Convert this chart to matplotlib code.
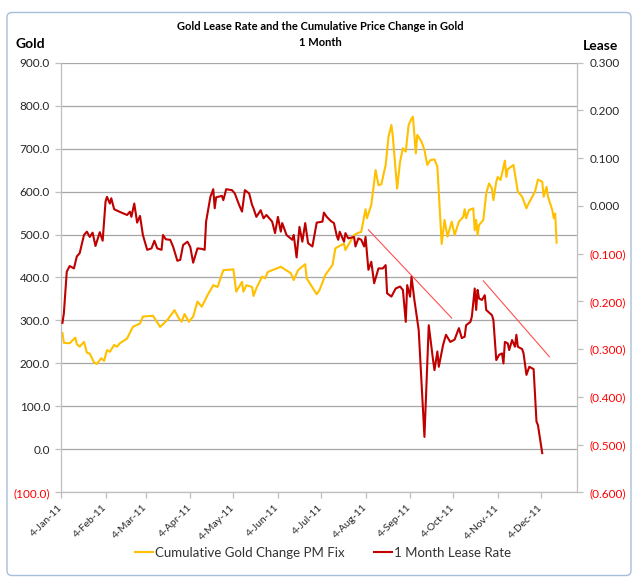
import matplotlib
matplotlib.use("Agg")
import matplotlib.pyplot as plt
import pandas as pd
from matplotlib.patches import FancyBboxPatch
from matplotlib.lines import Line2D

plt.rcParams['font.family'] = ['Lato', 'DejaVu Sans']

# ---------------- data ----------------
start_date = "2011-01-04"

gold_days = [1, 2, 6, 10, 11, 13, 16, 18, 20, 23,
             25, 28, 30, 32, 34, 37, 39, 41, 46, 50,
             55, 57, 64, 69, 74, 79, 82, 84, 86, 89,
             92, 95, 98, 102, 106, 109, 113, 120, 122, 126,
             127, 129, 133, 134, 136, 140, 142, 144, 153, 160,
             162, 165, 170, 171, 178, 180, 184, 189, 191, 197,
             198, 204, 207, 209, 212, 213, 216, 219, 221, 223,
             226, 228, 230, 231, 234, 236, 238, 240, 242, 244,
             245, 247, 248, 251, 253, 255, 257, 260, 262, 265,
             267, 269, 272, 274, 277, 280, 281, 282, 284, 287,
             288, 289, 290, 291, 294, 296, 298, 300, 301, 303,
             304, 306, 309, 310, 311, 315, 318, 321, 324, 325,
             330, 332, 335, 336, 338, 339, 342, 343, 344, 345]
gold_values = [271, 248, 247, 260, 245, 239, 250, 225, 223, 202,
               199, 212, 206, 231, 227, 243, 239, 247, 258, 285,
               293, 309, 311, 285, 301, 324, 305, 297, 315, 297,
               309, 344, 332, 359, 382, 378, 417, 419, 367, 390,
               367, 382, 378, 357, 375, 402, 398, 413, 425, 410,
               394, 417, 431, 398, 361, 371, 406, 429, 468, 479,
               464, 499, 504, 506, 559, 538, 569, 650, 615, 617,
               662, 728, 755, 728, 607, 669, 701, 693, 755, 770,
               774, 689, 732, 716, 697, 662, 673, 675, 658, 478,
               534, 495, 530, 499, 530, 541, 559, 538, 557, 561,
               510, 534, 499, 522, 534, 596, 619, 607, 580, 623,
               634, 627, 672, 634, 652, 662, 600, 588, 561, 569,
               600, 628, 623, 588, 611, 588, 557, 538, 549, 481]

lease_days = [1, 2, 4, 6, 9, 11, 13, 16, 18, 20,
              22, 24, 27, 29, 31, 32, 34, 35, 37, 42,
              46, 48, 49, 51, 53, 55, 57, 60, 63, 65,
              67, 70, 71, 73, 76, 78, 81, 83, 85, 88,
              90, 92, 95, 98, 100, 101, 104, 106, 107, 108,
              112, 113, 115, 119, 121, 124, 126, 128, 131, 133,
              134, 136, 139, 141, 143, 147, 149, 151, 153, 154,
              157, 161, 162, 164, 166, 168, 170, 172, 175, 178,
              182, 183, 185, 188, 190, 191, 192, 193, 194, 197,
              198, 200, 204, 205, 207, 209, 211, 212, 214, 216,
              218, 221, 224, 226, 227, 230, 233, 236, 238, 240,
              241, 243, 244, 246, 249, 253, 256, 259, 260, 262,
              263, 266, 268, 271, 274, 277, 279, 281, 282, 285,
              286, 288, 289, 290, 291, 293, 295, 296, 300, 301,
              303, 305, 307, 308, 309, 311, 312, 314, 316, 317,
              318, 321, 322, 324, 326, 329, 331, 332, 335]
lease_values = [-0.245, -0.225, -0.138, -0.126, -0.131, -0.106, -0.099, -0.061, -0.054, -0.065,
                -0.056, -0.084, -0.055, -0.073, 0.009, 0.019, 0.005, 0.016, -0.007, -0.014,
                -0.019, -0.012, -0.023, 0.005, -0.035, -0.021, -0.061, -0.092, -0.089, -0.073,
                -0.089, -0.092, -0.061, -0.070, -0.071, -0.085, -0.115, -0.113, -0.082, -0.075,
                -0.086, -0.119, -0.089, -0.090, -0.092, -0.033, 0.019, 0.035, -0.005, 0.018,
                0.021, 0.012, 0.035, 0.033, 0.026, 0.002, -0.012, 0.033, 0.026, 0.002,
                -0.005, -0.023, -0.009, -0.026, -0.019, -0.033, -0.057, -0.023, -0.054, -0.036,
                -0.061, -0.071, -0.061, -0.108, -0.044, -0.075, -0.036, -0.078, -0.085, -0.035,
                -0.033, -0.014, -0.023, -0.032, -0.036, -0.050, -0.063, -0.071, -0.054, -0.075,
                -0.057, -0.068, -0.065, -0.085, -0.068, -0.071, -0.085, -0.065, -0.134, -0.117,
                -0.162, -0.131, -0.131, -0.124, -0.183, -0.190, -0.173, -0.169, -0.176, -0.243,
                -0.166, -0.190, -0.148, -0.197, -0.260, -0.484, -0.250, -0.323, -0.344, -0.305,
                -0.337, -0.291, -0.270, -0.285, -0.280, -0.256, -0.277, -0.274, -0.250, -0.243,
                -0.232, -0.173, -0.218, -0.176, -0.194, -0.197, -0.187, -0.218, -0.229, -0.239,
                -0.323, -0.312, -0.309, -0.330, -0.285, -0.288, -0.302, -0.281, -0.295, -0.270,
                -0.295, -0.300, -0.309, -0.354, -0.337, -0.342, -0.452, -0.459, -0.518]

# hand-drawn trend lines on the lease series
trend1_days = [214, 272]
trend1_values = [-0.050, -0.235]
trend2_days = [294, 340]
trend2_values = [-0.157, -0.316]

tick_dates = ["2011-01-04", "2011-02-04", "2011-03-04", "2011-04-04", "2011-05-04", "2011-06-04",
              "2011-07-04", "2011-08-04", "2011-09-04", "2011-10-04", "2011-11-04", "2011-12-04"]
tick_labels = ["4-Jan-11", "4-Feb-11", "4-Mar-11", "4-Apr-11", "4-May-11", "4-Jun-11",
               "4-Jul-11", "4-Aug-11", "4-Sep-11", "4-Oct-11", "4-Nov-11", "4-Dec-11"]

gold_ticks = [-100, 0, 100, 200, 300, 400, 500, 600, 700, 800, 900]
lease_ticks = [-0.6, -0.5, -0.4, -0.3, -0.2, -0.1, 0.0, 0.1, 0.2, 0.3]

title_text = "Gold Lease Rate and the Cumulative Price Change in Gold\n1 Month"
gold_label = "Cumulative Gold Change PM Fix"
lease_label = "1 Month Lease Rate"

# ---------------- drawing ----------------
t0 = pd.Timestamp(start_date)
to_dates = lambda days: t0 + pd.to_timedelta(days, unit="D")

GOLD = "#FFC000"
LEASE = "#C00000"
TEXT = "#262626"
AXC = "#BFBFBF"

fig = plt.figure(figsize=(6.4, 5.82), dpi=100)
fig.patch.set_facecolor("white")

border = FancyBboxPatch((7 / 640, 6.5 / 582), 624 / 640, 563 / 582,
                        boxstyle="round,pad=0,rounding_size=0.008",
                        transform=fig.transFigure, facecolor="none",
                        edgecolor="#A7BEDC", linewidth=1.0)
fig.patches.append(border)

ax = fig.add_axes([61 / 640, 1 - 492.3 / 582, 516 / 640, 429.6 / 582])
ax2 = ax.twinx()

ax.plot(to_dates(gold_days), gold_values, color=GOLD, lw=1.5, solid_joinstyle="round")
ax2.plot(to_dates(lease_days), lease_values, color=LEASE, lw=1.5, solid_joinstyle="round")
ax2.plot(to_dates(trend1_days), trend1_values, color="#FF5050", lw=0.8)
ax2.plot(to_dates(trend2_days), trend2_values, color="#FF5050", lw=0.8)

ax.set_xlim(t0, t0 + pd.Timedelta(days=359.2))
ax.set_ylim(-100, 900)
ax2.set_ylim(-0.6, 0.3)

# gridlines
ax.set_yticks(gold_ticks)
ax.yaxis.grid(True, color="#A6A6A6", lw=0.9)
ax.set_axisbelow(True)

def fmt_gold(v):
    return f"({abs(v):.1f})" if v < 0 else f"{v:.1f}"

def fmt_lease(v):
    v = round(v, 3)
    return f"({abs(v):.3f})" if v < 0 else f"{abs(v):.3f}"

ax.set_yticklabels([fmt_gold(v) for v in gold_ticks])
for lab, v in zip(ax.get_yticklabels(), gold_ticks):
    lab.set_color("#FF0000" if v < 0 else TEXT)
ax2.set_yticks(lease_ticks)
ax2.set_yticklabels([fmt_lease(v) for v in lease_ticks])
for lab, v in zip(ax2.get_yticklabels(), lease_ticks):
    lab.set_color("#FF0000" if round(v, 3) < 0 else TEXT)

ax.set_xticks(pd.to_datetime(tick_dates))
ax.set_xticklabels(tick_labels, rotation=45, ha="right", va="center",
                   rotation_mode="anchor", color=TEXT, fontsize=7.5)

ax.tick_params(axis="y", direction="out", length=4, color=AXC, labelsize=8.5, pad=4, width=0.9)
ax2.tick_params(axis="y", direction="out", length=4, color=AXC, labelsize=8.5, pad=5, width=0.9)
ax.tick_params(axis="x", direction="out", length=4, color=AXC, pad=6, width=0.9)

for sp in ["top", "right"]:
    ax.spines[sp].set_visible(False)
for sp in ["top", "left", "bottom"]:
    ax2.spines[sp].set_visible(False)
for sp in ["left", "bottom"]:
    ax.spines[sp].set_color(AXC)
    ax.spines[sp].set_linewidth(0.9)
ax2.spines["right"].set_color(AXC)
ax2.spines["right"].set_linewidth(0.9)

# title and axis titles
fig.text(0.5, 1 - 34.5 / 582, title_text, ha="center", va="center",
         fontsize=8, fontweight="bold", color="#000000", linespacing=1.45)
fig.text(16 / 640, 1 - 44 / 582, "Gold", ha="left", va="center",
         fontsize=10, fontweight="bold", color="#000000")
fig.text(583 / 640, 1 - 46 / 582, "Lease", ha="left", va="center",
         fontsize=10, fontweight="bold", color="#000000")

handles = [Line2D([], [], color=GOLD, lw=1.5), Line2D([], [], color=LEASE, lw=1.5)]
leg = fig.legend(handles, [gold_label, lease_label], loc="center",
                 bbox_to_anchor=(0.505, 1 - 553 / 582), ncol=2, frameon=False,
                 fontsize=9.5, handlelength=1.4, handletextpad=0.15, columnspacing=2.2)
for t in leg.get_texts():
    t.set_color("#333333")

fig.savefig("out.png", dpi=100)
